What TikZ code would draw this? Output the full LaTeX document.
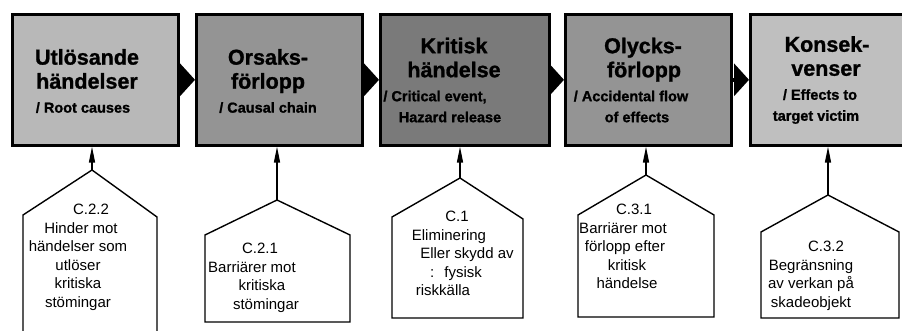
\documentclass[tikz,border=0pt]{standalone}
\usepackage{fontspec}
\setmainfont{Liberation Sans}
\newfontfamily\heavyfont{Liberation Sans}[UprightFont=*-Bold, FakeBold=1.2]
\usetikzlibrary{arrows.meta}
% a line of centred text, moved sideways by #1
\newcommand\lineshift[2]{\makebox[0pt]{\hspace*{#1}\hspace*{#1}#2}}
\newcommand\stagesub{\fontsize{14.5}{21}\selectfont}
\begin{document}
\begin{tikzpicture}[x=1pt, y=-1pt,
  stage/.style={draw=black, line width=2.6pt, minimum width=166pt, minimum height=131pt,
                inner sep=0pt, anchor=north west},
  stagetext/.style={align=center, inner sep=0pt, font=\heavyfont\fontsize{21.5}{24}\selectfont},
  barrier/.style={draw=black, line width=1.4pt, line join=miter},
  barriertext/.style={align=center, inner sep=0pt, anchor=north, font=\fontsize{15}{18.5}\selectfont},
  flow/.style={line width=4pt, -{Triangle[length=15pt 0 0,width=32pt 0 0]}},
  link/.style={line width=1.4pt, -{Triangle[length=16pt 0 0,width=6pt 0 0]}}]
\useasboundingbox (0,0) rectangle (902,331);

% the five stages of the accident sequence
\node[stage, fill=black!28] (b1) at (11,13) {};
\node[stage, fill=black!42] (b2) at (195,13) {};
\node[stage, fill=black!52, minimum width=169pt] (b3) at (379,13) {};
\node[stage, fill=black!42] (b4) at (564,13) {};
\node[stage, fill=black!25] (b5) at (749,13) {};

\node[stagetext] (t1) at (87,81) {Utlösande\\händelser\\\lineshift{-4pt}{\stagesub / Root causes}};
\node[stagetext] (t2) at (268,81) {Orsaks-\\förlopp\\{\stagesub / Causal chain}};
\node[stagetext] (t3) at (452,80) {\lineshift{2pt}{Kritisk}\\\lineshift{2pt}{händelse}\\
  \lineshift{-17pt}{\stagesub / Critical event,}\\[-3pt]\lineshift{-2pt}{\stagesub Hazard release}};
\node[stagetext] (t4) at (640,80) {\lineshift{3pt}{Olycks-}\\\lineshift{4pt}{förlopp}\\
  \lineshift{-9pt}{\stagesub / Accidental flow}\\[-3pt]\lineshift{-3pt}{\stagesub of effects}};
\node[stagetext] (t5) at (822,80) {\lineshift{5pt}{Konsek-}\\\lineshift{4pt}{venser}\\
  \lineshift{-2pt}{\stagesub / Effects to}\\[-3pt]\lineshift{-6pt}{\stagesub target victim}};

% flow between the stages
\draw[flow] (b1.east) -- (b2.west);
\draw[flow] (b2.east) -- (b3.west);
\draw[flow] (b3.east) -- (b4.west);
\draw[flow] (b4.east) -- (b5.west);

% barriers below each stage
\draw[barrier] (23,340) -- (23,215) -- (92,170) coordinate (p1) -- (157,217) -- (157,340);
\draw[barrier] (205,322) -- (205,235) -- (277,200) coordinate (p2) -- (350,235) -- (350,322) -- cycle;
\draw[barrier] (392,318) -- (392,217) -- (460,178) coordinate (p3) -- (523,219) -- (523,318) -- cycle;
\draw[barrier] (578,317) -- (578,215) -- (646,175) coordinate (p4) -- (714,215) -- (714,317) -- cycle;
\draw[barrier] (761,318) -- (761,232) -- (828,195) coordinate (p5) -- (899,232) -- (899,318) -- cycle;

\draw[link] (p1) -- (p1 |- b1.south);
\draw[link] (p2) -- (p2 |- b2.south);
\draw[link] (p3) -- (p3 |- b3.south);
\draw[link] (p4) -- (p4 |- b4.south);
\draw[link] (p5) -- (p5 |- b5.south);

\node[barriertext] (n1) at (78,204) {\lineshift{13pt}{C.2.2}\\\lineshift{3pt}{Hinder mot}\\händelser som\\utlöser\\kritiska\\stömingar};
\node[barriertext] (n2) at (258,243) {\lineshift{2pt}{C.2.1}\\\lineshift{-6pt}{Barriärer mot}\\\lineshift{4pt}{kritiska}\\\lineshift{8pt}{stömingar}};
\node[barriertext] (n3) at (450,211) {\lineshift{7pt}{C.1}\\\lineshift{-1pt}{Eliminering}\\\lineshift{17pt}{Eller skydd av}\\\lineshift{6pt}{:\hspace{10pt}fysisk}\\\lineshift{-7pt}{riskkälla}};
\node[barriertext] (n4) at (626,204) {\lineshift{8pt}{C.3.1}\\\lineshift{-3pt}{Barriärer mot}\\\lineshift{-1pt}{förlopp efter}\\\lineshift{1pt}{kritisk}\\\lineshift{1pt}{händelse}};
\node[barriertext] (n5) at (811,241) {\lineshift{15pt}{C.3.2}\\Begränsning\\av verkan på\\skadeobjekt};
\end{tikzpicture}
\end{document}
